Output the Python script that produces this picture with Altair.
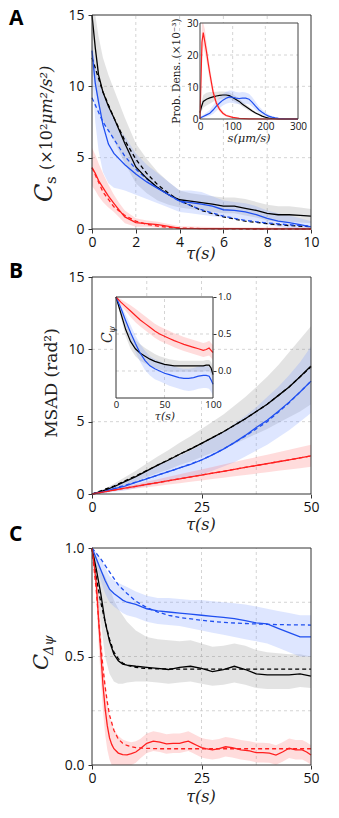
import altair as alt
import pandas as pd

W, H = 323, 802

# ---------------- panel geometry (scale ranges) ----------------
P = {
    "A":  dict(xd=[0, 10],  xr=[84, 303],  yd=[0, 15],       yr=[221, 7]),
    "IA": dict(xd=[0, 300], xr=[192, 290], yd=[0, 30],       yr=[111, 15]),
    "B":  dict(xd=[0, 50],  xr=[84, 303],  yd=[0, 15],       yr=[486, 269]),
    "IB": dict(xd=[0, 100], xr=[108, 205], yd=[-0.365, 1.0], yr=[390, 289]),
    "C":  dict(xd=[0, 50],  xr=[84, 303],  yd=[0, 1],        yr=[757, 540]),
}

BLUE, RED, BLACK = "#1f4ff0", "#ff1f1f", "#000000"
BAND = {"k": ("#808080", 0.22), "b": ("#7b9bff", 0.25), "r": ("#ff6060", 0.22)}
COL = {"k": BLACK, "b": BLUE, "r": RED}

# ---------------- Panel A data ----------------
tA = [0, 0.15, 0.3, 0.5, 0.75, 1.0, 1.25, 1.5, 2, 2.5, 3, 3.5, 4, 4.5, 5, 5.5, 6, 6.5, 7, 7.5, 8, 8.5, 9, 9.5, 10]
A_k = [15.0, 12.7, 10.8, 9.6, 8.6, 7.8, 6.9, 6.0, 4.35, 3.55, 2.9, 2.4, 2.05, 1.95, 1.85, 1.75, 1.6, 1.6, 1.45, 1.3, 1.1, 1.0, 1.0, 0.95, 0.9]
A_k_hi = [15, 15, 13.5, 12, 10.8, 9.8, 8.8, 7.8, 6.0, 4.9, 4.0, 3.3, 2.7, 2.5, 2.4, 2.3, 2.2, 2.2, 2.1, 1.9, 1.7, 1.6, 1.6, 1.5, 1.4]
A_k_lo = [11.5, 10.0, 8.6, 7.6, 6.9, 6.2, 5.4, 4.6, 3.2, 2.5, 2.0, 1.7, 1.5, 1.4, 1.3, 1.2, 1.1, 1.1, 0.95, 0.8, 0.6, 0.5, 0.5, 0.45, 0.4]
A_b = [12.5, 10.2, 8.9, 7.3, 5.95, 5.3, 4.9, 4.5, 3.85, 3.3, 2.85, 2.4, 1.95, 1.85, 1.75, 1.6, 1.35, 1.3, 1.2, 1.0, 0.75, 0.55, 0.45, 0.3, 0.15]
A_b_hi = [13.0, 11.5, 10.5, 9.5, 8.5, 7.8, 7.0, 6.5, 5.3, 4.5, 3.9, 3.3, 2.7, 2.7, 2.6, 2.3, 2.0, 1.9, 1.8, 1.6, 1.3, 1.1, 0.95, 0.75, 0.55]
A_b_lo = [11.0, 7.5, 5.5, 4.0, 3.2, 2.9, 2.8, 2.7, 2.4, 2.1, 1.8, 1.5, 1.2, 1.1, 1.0, 0.9, 0.8, 0.7, 0.6, 0.5, 0.3, 0.15, 0.05, 0.0, 0.0]
tAr = [0, 0.15, 0.3, 0.5, 0.75, 1, 1.25, 1.5, 2, 2.5, 3, 3.5, 4, 5, 6, 7, 8, 9, 10]
A_r = [4.3, 3.9, 3.4, 2.9, 2.3, 1.8, 1.3, 0.85, 0.45, 0.38, 0.3, 0.18, 0.05, 0.03, 0.02, 0.02, 0.01, 0.01, 0.0]
A_r_hi = [5.7, 5.2, 4.6, 3.9, 3.1, 2.4, 1.8, 1.3, 0.75, 0.6, 0.5, 0.35, 0.2, 0.15, 0.12, 0.1, 0.1, 0.1, 0.1]
A_r_lo = [3.0, 2.7, 2.3, 1.9, 1.5, 1.2, 0.8, 0.4, 0.15, 0.15, 0.1, 0.02, 0, 0, 0, 0, 0, 0, 0]
tAf = [0, 0.5, 1, 1.5, 2, 2.5, 3, 3.5, 4, 5, 6, 7, 8, 9, 10]
A_k_fit = [12.0, 9.6, 7.8, 6.2, 4.9, 3.9, 3.1, 2.5, 2.0, 1.3, 0.85, 0.55, 0.37, 0.24, 0.16]
A_b_fit = [9.2, 7.5, 6.3, 5.1, 4.2, 3.5, 2.9, 2.4, 1.95, 1.35, 0.9, 0.6, 0.42, 0.3, 0.2]
A_r_fit = [4.3, 2.6, 1.55, 0.95, 0.55, 0.33, 0.2, 0.12, 0.07, 0.03, 0.01, 0.0, 0.0, 0.0, 0.0]

# ---------------- Inset A data (speed distribution) ----------------
sR = [0, 3, 6, 10, 15, 20, 25, 30, 40, 50, 60, 70, 80, 100, 120, 150, 200, 250, 300]
IA_r = [0, 12, 24, 27, 24, 21, 17.5, 14.3, 8.5, 5.0, 3.0, 1.8, 1.1, 0.5, 0.2, 0.05, 0, 0, 0]
IA_r_hi = [2, 18, 30, 30, 28, 24, 20, 16.5, 10, 6, 3.8, 2.4, 1.5, 0.8, 0.4, 0.1, 0, 0, 0]
IA_r_lo = [0, 7, 19, 23, 20.5, 18, 15, 12, 7, 4, 2.3, 1.3, 0.7, 0.2, 0, 0, 0, 0, 0]
sK = [0, 5, 10, 20, 30, 40, 50, 60, 70, 80, 90, 100, 110, 120, 130, 140, 150, 160, 170, 180, 190, 200, 210, 220, 240, 260, 300]
IA_k = [2.0, 4.0, 5.5, 6.2, 6.6, 6.9, 7.2, 7.4, 7.5, 7.5, 7.3, 6.7, 6.1, 5.5, 4.6, 3.9, 3.2, 2.5, 1.9, 1.4, 0.9, 0.55, 0.3, 0.15, 0.05, 0, 0]
IA_k_hi = [2.5, 5.5, 7.5, 8.2, 8.4, 8.4, 8.5, 8.6, 8.6, 8.5, 8.3, 7.7, 7.1, 6.4, 5.4, 4.6, 3.8, 3.0, 2.3, 1.7, 1.2, 0.8, 0.5, 0.3, 0.1, 0, 0]
IA_k_lo = [1.5, 2.5, 3.5, 4.2, 4.8, 5.4, 5.9, 6.2, 6.4, 6.5, 6.3, 5.8, 5.2, 4.6, 3.8, 3.2, 2.6, 2.0, 1.5, 1.1, 0.6, 0.3, 0.1, 0, 0, 0, 0]
sB = [0, 10, 20, 30, 40, 50, 60, 70, 80, 90, 100, 110, 120, 130, 140, 150, 160, 170, 180, 190, 200, 210, 220, 230, 240, 250, 260, 300]
IA_b = [0.3, 0.8, 1.3, 1.8, 2.8, 4.0, 5.0, 5.9, 6.5, 6.9, 6.8, 6.5, 6.4, 6.5, 6.5, 6.2, 5.2, 4.0, 2.9, 2.1, 1.4, 0.9, 0.6, 0.35, 0.2, 0.1, 0.02, 0]
IA_b_hi = [0.6, 1.3, 2.0, 2.8, 4.2, 5.6, 6.8, 7.8, 8.5, 8.9, 8.8, 8.4, 8.3, 8.4, 8.3, 7.9, 6.8, 5.4, 4.0, 3.0, 2.1, 1.4, 0.9, 0.6, 0.4, 0.2, 0.05, 0]
IA_b_lo = [0, 0.3, 0.7, 1.0, 1.6, 2.5, 3.4, 4.2, 4.8, 5.1, 5.0, 4.8, 4.6, 4.7, 4.8, 4.6, 3.8, 2.8, 1.9, 1.3, 0.8, 0.4, 0.3, 0.1, 0, 0, 0, 0]

# ---------------- Panel B data (MSAD) ----------------
tB = [0, 2.5, 5, 7.5, 10, 12.5, 15, 17.5, 20, 22.5, 25, 27.5, 30, 32.5, 35, 37.5, 40, 42.5, 45, 47.5, 50]
B_k = [0, 0.22, 0.5, 0.85, 1.2, 1.6, 2.0, 2.35, 2.75, 3.1, 3.5, 3.9, 4.3, 4.75, 5.2, 5.7, 6.2, 6.8, 7.4, 8.1, 8.85]
B_k_hi = [0, 0.3, 0.7, 1.15, 1.6, 2.1, 2.6, 3.05, 3.55, 4.0, 4.5, 5.0, 5.5, 6.1, 6.7, 7.4, 8.1, 8.9, 9.8, 10.7, 11.6]
B_k_lo = [0, 0.15, 0.35, 0.6, 0.85, 1.15, 1.45, 1.7, 2.0, 2.25, 2.55, 2.85, 3.15, 3.45, 3.8, 4.15, 4.5, 4.9, 5.3, 5.7, 6.2]
B_b = [0, 0.15, 0.35, 0.55, 0.8, 1.05, 1.3, 1.55, 1.8, 2.05, 2.35, 2.7, 3.1, 3.55, 4.05, 4.6, 5.1, 5.7, 6.35, 7.05, 7.8]
B_b_hi = [0, 0.3, 0.6, 0.9, 1.25, 1.6, 1.95, 2.3, 2.65, 3.0, 3.4, 3.85, 4.3, 4.85, 5.4, 6.0, 6.7, 7.4, 8.2, 9.1, 10.2]
B_b_lo = [0, 0.05, 0.15, 0.25, 0.4, 0.55, 0.7, 0.85, 1.0, 1.15, 1.35, 1.6, 1.9, 2.2, 2.6, 3.0, 3.4, 3.9, 4.4, 5.0, 5.6]
B_r = [0, 0.13, 0.27, 0.4, 0.53, 0.66, 0.79, 0.92, 1.05, 1.18, 1.31, 1.44, 1.57, 1.7, 1.84, 1.97, 2.1, 2.23, 2.36, 2.5, 2.63]
B_r_hi = [0, 0.17, 0.34, 0.51, 0.68, 0.85, 1.02, 1.19, 1.36, 1.53, 1.7, 1.87, 2.04, 2.21, 2.38, 2.55, 2.72, 2.89, 3.06, 3.23, 3.4]
B_r_lo = [0, 0.09, 0.19, 0.28, 0.38, 0.47, 0.56, 0.66, 0.75, 0.85, 0.94, 1.03, 1.13, 1.22, 1.31, 1.41, 1.5, 1.6, 1.69, 1.78, 1.88]
tBf = [0, 5, 10, 15, 20, 25, 30, 35, 40, 45, 50]
B_k_fit = [0, 0.55, 1.25, 2.0, 2.75, 3.5, 4.3, 5.2, 6.2, 7.4, 8.8]
B_b_fit = [0, 0.38, 0.82, 1.3, 1.8, 2.35, 3.1, 4.0, 5.0, 6.3, 7.8]
B_r_fit = [0, 0.27, 0.53, 0.79, 1.05, 1.31, 1.57, 1.84, 2.1, 2.36, 2.63]

# ---------------- Inset B data (C_psi) ----------------
tIB = [0, 5, 10, 15, 20, 25, 30, 35, 40, 45, 50, 55, 60, 65, 70, 75, 80, 85, 90, 93, 96, 98, 100]
IB_r = [1.0, 0.93, 0.87, 0.81, 0.75, 0.69, 0.64, 0.59, 0.54, 0.5, 0.47, 0.44, 0.41, 0.385, 0.36, 0.34, 0.32, 0.3, 0.28, 0.29, 0.31, 0.28, 0.25]
IB_r_hi = [1.0, 0.97, 0.93, 0.89, 0.84, 0.79, 0.74, 0.69, 0.64, 0.6, 0.57, 0.54, 0.51, 0.485, 0.46, 0.44, 0.42, 0.4, 0.38, 0.39, 0.41, 0.38, 0.35]
IB_r_lo = [1.0, 0.89, 0.81, 0.73, 0.66, 0.6, 0.55, 0.5, 0.45, 0.41, 0.38, 0.35, 0.32, 0.295, 0.27, 0.25, 0.23, 0.21, 0.19, 0.2, 0.21, 0.18, 0.15]
IB_k = [1.0, 0.78, 0.56, 0.4, 0.3, 0.24, 0.2, 0.16, 0.13, 0.11, 0.09, 0.08, 0.07, 0.07, 0.07, 0.07, 0.07, 0.07, 0.07, 0.08, 0.08, 0.04, -0.05]
IB_k_hi = [1.0, 0.84, 0.65, 0.51, 0.42, 0.36, 0.31, 0.27, 0.23, 0.2, 0.18, 0.16, 0.15, 0.14, 0.14, 0.14, 0.14, 0.14, 0.14, 0.15, 0.15, 0.12, 0.05]
IB_k_lo = [1.0, 0.72, 0.47, 0.3, 0.2, 0.14, 0.1, 0.07, 0.04, 0.02, 0.0, -0.01, -0.01, -0.01, -0.01, -0.01, -0.01, -0.01, -0.01, 0.0, 0.0, -0.04, -0.13]
IB_b = [1.0, 0.85, 0.68, 0.52, 0.37, 0.24, 0.14, 0.07, 0.03, 0.0, -0.03, -0.05, -0.07, -0.09, -0.1, -0.1, -0.09, -0.07, -0.06, -0.06, -0.07, -0.12, -0.18]
IB_b_hi = [1.0, 0.9, 0.76, 0.62, 0.48, 0.36, 0.27, 0.2, 0.16, 0.13, 0.1, 0.08, 0.06, 0.04, 0.03, 0.03, 0.04, 0.06, 0.07, 0.07, 0.06, 0.02, -0.04]
IB_b_lo = [1.0, 0.8, 0.6, 0.42, 0.26, 0.12, 0.01, -0.06, -0.11, -0.14, -0.17, -0.2, -0.22, -0.24, -0.26, -0.27, -0.26, -0.24, -0.23, -0.23, -0.24, -0.28, -0.33]
IB_ticks = [0.0, 0.5, 1.0]
IB_tick_labels = ["0.0", "0.5", "1.0"]

# ---------------- Panel C data (C_dpsi) ----------------
tC = [0, 1, 2, 3, 4, 5, 6, 7, 8, 10, 12.5, 15, 17.5, 20, 22.5, 25, 27.5, 30, 32.5, 35, 37.5, 40, 42.5, 45, 47.5, 50]
C_b = [1.0, 0.95, 0.9, 0.85, 0.81, 0.79, 0.775, 0.76, 0.75, 0.74, 0.72, 0.71, 0.705, 0.70, 0.695, 0.69, 0.685, 0.68, 0.675, 0.665, 0.655, 0.65, 0.63, 0.61, 0.59, 0.59]
C_b_hi = [1.0, 0.98, 0.95, 0.91, 0.87, 0.85, 0.84, 0.83, 0.82, 0.8, 0.78, 0.77, 0.77, 0.765, 0.76, 0.76, 0.755, 0.75, 0.745, 0.74, 0.73, 0.72, 0.71, 0.7, 0.69, 0.69]
C_b_lo = [1.0, 0.92, 0.85, 0.79, 0.75, 0.73, 0.715, 0.7, 0.69, 0.68, 0.66, 0.65, 0.645, 0.64, 0.63, 0.62, 0.61, 0.6, 0.59, 0.58, 0.57, 0.56, 0.54, 0.52, 0.5, 0.5]
C_k = [1.0, 0.9, 0.79, 0.66, 0.57, 0.51, 0.48, 0.465, 0.46, 0.455, 0.45, 0.445, 0.44, 0.45, 0.455, 0.445, 0.43, 0.44, 0.455, 0.44, 0.42, 0.415, 0.415, 0.415, 0.42, 0.41]
C_k_hi = [1.0, 0.96, 0.9, 0.87, 0.82, 0.76, 0.72, 0.69, 0.66, 0.62, 0.59, 0.58, 0.575, 0.57, 0.575, 0.56, 0.545, 0.55, 0.56, 0.55, 0.53, 0.52, 0.515, 0.51, 0.51, 0.5]
C_k_lo = [1.0, 0.84, 0.66, 0.5, 0.42, 0.385, 0.375, 0.375, 0.38, 0.385, 0.385, 0.38, 0.375, 0.38, 0.385, 0.375, 0.365, 0.37, 0.38, 0.37, 0.355, 0.35, 0.35, 0.35, 0.36, 0.355]
tCr = [0, 0.5, 1, 1.5, 2, 2.5, 3, 3.5, 4, 4.5, 5, 6, 7, 8, 9, 10, 11, 12.5, 14, 15.5, 17, 18.5, 20, 21, 22, 23, 24, 25, 26, 27.5, 29, 30.5, 32, 34, 36, 37.5, 39, 40.5, 42, 43.5, 45, 46.5, 48, 49, 50]
C_r = [1.0, 0.92, 0.83, 0.67, 0.52, 0.37, 0.26, 0.18, 0.125, 0.095, 0.075, 0.055, 0.048, 0.047, 0.052, 0.06, 0.075, 0.1, 0.11, 0.105, 0.097, 0.1, 0.1, 0.105, 0.11, 0.1, 0.09, 0.08, 0.075, 0.07, 0.075, 0.084, 0.08, 0.07, 0.065, 0.057, 0.057, 0.055, 0.046, 0.06, 0.077, 0.07, 0.07, 0.06, 0.046]
C_r_hi = [1.0, 0.95, 0.89, 0.78, 0.64, 0.49, 0.38, 0.29, 0.225, 0.19, 0.165, 0.135, 0.118, 0.11, 0.105, 0.11, 0.12, 0.145, 0.155, 0.15, 0.142, 0.145, 0.145, 0.15, 0.155, 0.145, 0.135, 0.125, 0.12, 0.115, 0.12, 0.129, 0.125, 0.115, 0.11, 0.102, 0.102, 0.1, 0.091, 0.105, 0.122, 0.115, 0.115, 0.105, 0.091]
C_r_lo = [1.0, 0.89, 0.77, 0.56, 0.4, 0.25, 0.14, 0.07, 0.025, 0.0, 0.0, 0.0, 0.0, 0.0, 0.0, 0.01, 0.03, 0.055, 0.065, 0.06, 0.052, 0.055, 0.055, 0.06, 0.065, 0.055, 0.045, 0.035, 0.03, 0.025, 0.03, 0.039, 0.035, 0.025, 0.02, 0.012, 0.012, 0.01, 0.001, 0.015, 0.032, 0.025, 0.025, 0.015, 0.001]
tCf = [0, 0.5, 1, 1.5, 2, 2.5, 3, 3.5, 4, 5, 6, 7, 8, 10, 12, 15, 20, 30, 40, 50]
C_r_fit = [1.0, 0.9, 0.8, 0.67, 0.55, 0.45, 0.36, 0.29, 0.23, 0.16, 0.12, 0.1, 0.09, 0.08, 0.077, 0.075, 0.075, 0.075, 0.075, 0.075]
tCbf = [0, 2, 4, 6, 8, 10, 12.5, 15, 17.5, 20, 25, 30, 35, 40, 45, 50]
C_b_fit = [1.0, 0.95, 0.89, 0.83, 0.79, 0.755, 0.725, 0.705, 0.69, 0.68, 0.667, 0.657, 0.652, 0.648, 0.646, 0.645]
tCkf = [0, 1, 2, 3, 4, 5, 6, 7, 8, 10, 12, 15, 20, 30, 40, 50]
C_k_fit = [1.0, 0.86, 0.75, 0.66, 0.58, 0.52, 0.49, 0.47, 0.46, 0.45, 0.445, 0.443, 0.442, 0.442, 0.442, 0.442]

# ---------------- grid / tick positions ----------------
GRID = {
    "A": ([2, 4, 6, 8], [5, 10]),
    "IA": ([100, 200], [10, 20]),
    "B": ([12.5, 25, 37.5], [5, 10]),
    "IB": ([50], [0, 0.5]),
    "C": ([12.5, 25, 37.5], [0.25, 0.5, 0.75]),
}

TICK_FONT = "Open Sans"
ONE = pd.DataFrame({"k": [0]})


def sc(d, r):
    return alt.Scale(domain=d, range=r, nice=False, zero=False)


def X(p, f, axis=None):
    return alt.X(f"{f}:Q", scale=sc(P[p]["xd"], P[p]["xr"]), axis=axis)


def Y(p, f, axis=None):
    return alt.Y(f"{f}:Q", scale=sc(P[p]["yd"], P[p]["yr"]), axis=axis)


def band(p, t, lo, hi, key):
    c, o = BAND[key]
    df = pd.DataFrame({"t": t, "lo": lo, "hi": hi})
    return alt.Chart(df).mark_area(color=c, opacity=o).encode(
        x=X(p, "t"), y=Y(p, "lo"), y2="hi:Q")


def line(p, t, v, key, dashed=False, width=1.3):
    df = pd.DataFrame({"t": t, "v": v})
    kw = dict(color=COL[key], strokeWidth=width)
    if dashed:
        kw["strokeDash"] = [4, 3]
    return alt.Chart(df).mark_line(**kw).encode(x=X(p, "t"), y=Y(p, "v"))


def grid(p):
    gx, gy = GRID[p]
    xd, yd = P[p]["xd"], P[p]["yd"]
    dv = pd.DataFrame({"g": gx, "a": [yd[0]] * len(gx), "b": [yd[1]] * len(gx)})
    dh = pd.DataFrame({"g": gy, "a": [xd[0]] * len(gy), "b": [xd[1]] * len(gy)})
    st = dict(color="#c9c9c9", strokeWidth=0.8, strokeDash=[3, 3])
    v = alt.Chart(dv).mark_rule(**st).encode(x=X(p, "g"), y=Y(p, "a"), y2="b:Q")
    h = alt.Chart(dh).mark_rule(**st).encode(y=Y(p, "g"), x=X(p, "a"), x2="b:Q")
    return [v, h]


def bg(p):
    xd, yd = P[p]["xd"], P[p]["yd"]
    df = pd.DataFrame({"x0": [xd[0]], "x1": [xd[1]], "y0": [yd[0]], "y1": [yd[1]]})
    return alt.Chart(df).mark_rect(color="white").encode(
        x=X(p, "x0"), x2="x1:Q", y=Y(p, "y0"), y2="y1:Q")


def frame(p, xaxis, yaxis, color="#333"):
    xd, yd = P[p]["xd"], P[p]["yd"]
    df = pd.DataFrame({"x0": [xd[0]], "x1": [xd[1]], "y0": [yd[0]], "y1": [yd[1]]})
    return alt.Chart(df).mark_rect(fillOpacity=0, stroke=color, strokeWidth=1).encode(
        x=X(p, "x0", xaxis), x2="x1:Q", y=Y(p, "y0", yaxis), y2="y1:Q")


def ax(orient, values, fmt, offset, size=14, tick=4, pad=3, labels=True):
    kw = dict(orient=orient, values=values, format=fmt, offset=offset, grid=False,
              domain=False, labelFont=TICK_FONT, labelFontSize=size,
              labelColor="#111111", labelPadding=pad, labelFlush=False,
              labelOverlap=False, title=None, labels=labels)
    if tick > 0:
        kw.update(ticks=True, tickSize=tick, tickColor="#333333", tickWidth=1)
    else:
        kw.update(ticks=False)
    return alt.Axis(**kw)


def txt(s, x, y, size, font="DejaVu Serif", style="normal", weight="normal",
        angle=0, align="center", dx=0, dy=0, color="#222222"):
    return alt.Chart(ONE).mark_text(
        text=s, fontSize=size, font=font, fontStyle=style, fontWeight=weight,
        angle=angle, align=align, baseline="alphabetic", dx=dx, dy=dy, color=color
    ).encode(x=alt.value(x), y=alt.value(y))


layers = []

# ---------- Panel A ----------
layers += grid("A")
layers += [band("A", tA, A_k_lo, A_k_hi, "k"), band("A", tA, A_b_lo, A_b_hi, "b"),
           band("A", tAr, A_r_lo, A_r_hi, "r")]
layers += [line("A", tAf, A_k_fit, "k", True), line("A", tAf, A_b_fit, "b", True),
           line("A", tAf, A_r_fit, "r", True),
           line("A", tA, A_k, "k"), line("A", tA, A_b, "b"), line("A", tAr, A_r, "r")]
layers += [frame("A", ax("bottom", [0, 2, 4, 6, 8, 10], "d", 221 - H, pad=2),
                 ax("left", [0, 5, 10, 15], "d", -84, pad=4))]

# ---------- Inset A ----------
layers += [bg("IA")] + grid("IA")
layers += [band("IA", sK, IA_k_lo, IA_k_hi, "k"), band("IA", sB, IA_b_lo, IA_b_hi, "b"),
           band("IA", sR, IA_r_lo, IA_r_hi, "r")]
layers += [line("IA", sK, IA_k, "k", width=1.2), line("IA", sB, IA_b, "b", width=1.2),
           line("IA", sR, IA_r, "r", width=1.2)]
layers += [frame("IA", ax("bottom", [0, 100, 200, 300], "d", 111 - H, size=10, tick=0, pad=2),
                 ax("left", [0, 10, 20, 30], "d", -192, size=10, tick=0, pad=2), color="#444")]

# ---------- Panel B ----------
layers += grid("B")
layers += [band("B", tB, B_k_lo, B_k_hi, "k"), band("B", tB, B_b_lo, B_b_hi, "b"),
           band("B", tB, B_r_lo, B_r_hi, "r")]
layers += [line("B", tBf, B_k_fit, "k", True), line("B", tBf, B_b_fit, "b", True),
           line("B", tBf, B_r_fit, "r", True),
           line("B", tB, B_k, "k"), line("B", tB, B_b, "b"), line("B", tB, B_r, "r")]
layers += [frame("B", ax("bottom", [0, 25, 50], "d", 486 - H, pad=2),
                 ax("left", [0, 5, 10, 15], "d", -84, pad=4))]

# ---------- Inset B ----------
layers += [bg("IB")] + grid("IB")
layers += [band("IB", tIB, IB_k_lo, IB_k_hi, "k"), band("IB", tIB, IB_b_lo, IB_b_hi, "b"),
           band("IB", tIB, IB_r_lo, IB_r_hi, "r")]
layers += [line("IB", tIB, IB_k, "k", width=1.2), line("IB", tIB, IB_b, "b", width=1.2),
           line("IB", tIB, IB_r, "r", width=1.2)]
layers += [frame("IB", ax("bottom", [0, 50, 100], "d", 390 - H, size=9.5, tick=0, pad=1),
                 ax("right", IB_ticks, ".1f", 205 - W, size=9.5, tick=3, pad=2, labels=False), color="#333")]
ib_lab = pd.DataFrame({"v": IB_ticks, "lab": IB_tick_labels})
layers.append(alt.Chart(ib_lab).mark_text(
    font=TICK_FONT, fontSize=9.5, color="#111111", align="left", baseline="middle"
).encode(x=alt.value(210), y=Y("IB", "v"), text="lab:N"))

# ---------- Panel C ----------
layers += grid("C")
layers += [band("C", tC, C_k_lo, C_k_hi, "k"), band("C", tC, C_b_lo, C_b_hi, "b"),
           band("C", tCr, C_r_lo, C_r_hi, "r")]
layers += [line("C", tCkf, C_k_fit, "k", True), line("C", tCbf, C_b_fit, "b", True),
           line("C", tCf, C_r_fit, "r", True),
           line("C", tC, C_k, "k"), line("C", tC, C_b, "b"), line("C", tCr, C_r, "r")]
layers += [frame("C", ax("bottom", [0, 25, 50], "d", 757 - H, pad=2),
                 ax("left", [0, 0.5, 1.0], ".1f", -84, pad=4))]

# ---------- Text: panel letters ----------
for letter, yb in [("A", 17), ("B", 270), ("C", 533)]:
    layers.append(txt(letter, 1, yb, 21, font="Open Sans", weight="bold", align="left", color="#000000"))

# ---------- Axis titles ----------
# A
layers += [
    txt("C", 44, 194, 24, style="italic", angle=270, align="left"),
    txt("s", 44, 194, 15, angle=270, align="left", dx=18, dy=4),
    txt("(×10²", 44, 194, 16, angle=270, align="left", dx=32),
    txt("μm²/s²)", 44, 194, 16, style="italic", angle=270, align="left", dx=78),
    txt("τ(s)", 193, 251, 16, style="italic"),
]
# Inset A
layers += [
    txt("Prob. Dens. (×10⁻³)", 172, 63, 10.5, angle=270),
    txt("s(μm/s)", 241, 134, 11.5, style="italic"),
]
# B
layers += [
    txt("MSAD (rad²)", 49, 375, 17, angle=270),
    txt("τ(s)", 193, 522, 16, style="italic"),
]
# Inset B
layers += [
    txt("C", 104, 335, 14, style="italic", angle=270, align="left"),
    txt("ψ", 104, 335, 9, style="italic", angle=270, align="left", dx=10, dy=3),
    txt("τ(s)", 157, 412, 11, style="italic"),
]
# C
layers += [
    txt("C", 40, 662, 21, style="italic", angle=270, align="left"),
    txt("Δψ", 40, 662, 13, style="italic", angle=270, align="left", dx=15, dy=5),
    txt("τ(s)", 193, 794, 16, style="italic"),
]

chart = alt.layer(*layers).resolve_scale(x="independent", y="independent").properties(
    width=W, height=H, autosize=alt.AutoSizeParams(type="none"), padding=0
).configure_view(stroke=None)

chart.save("out.html", embed_options={"renderer": "svg", "actions": False})
